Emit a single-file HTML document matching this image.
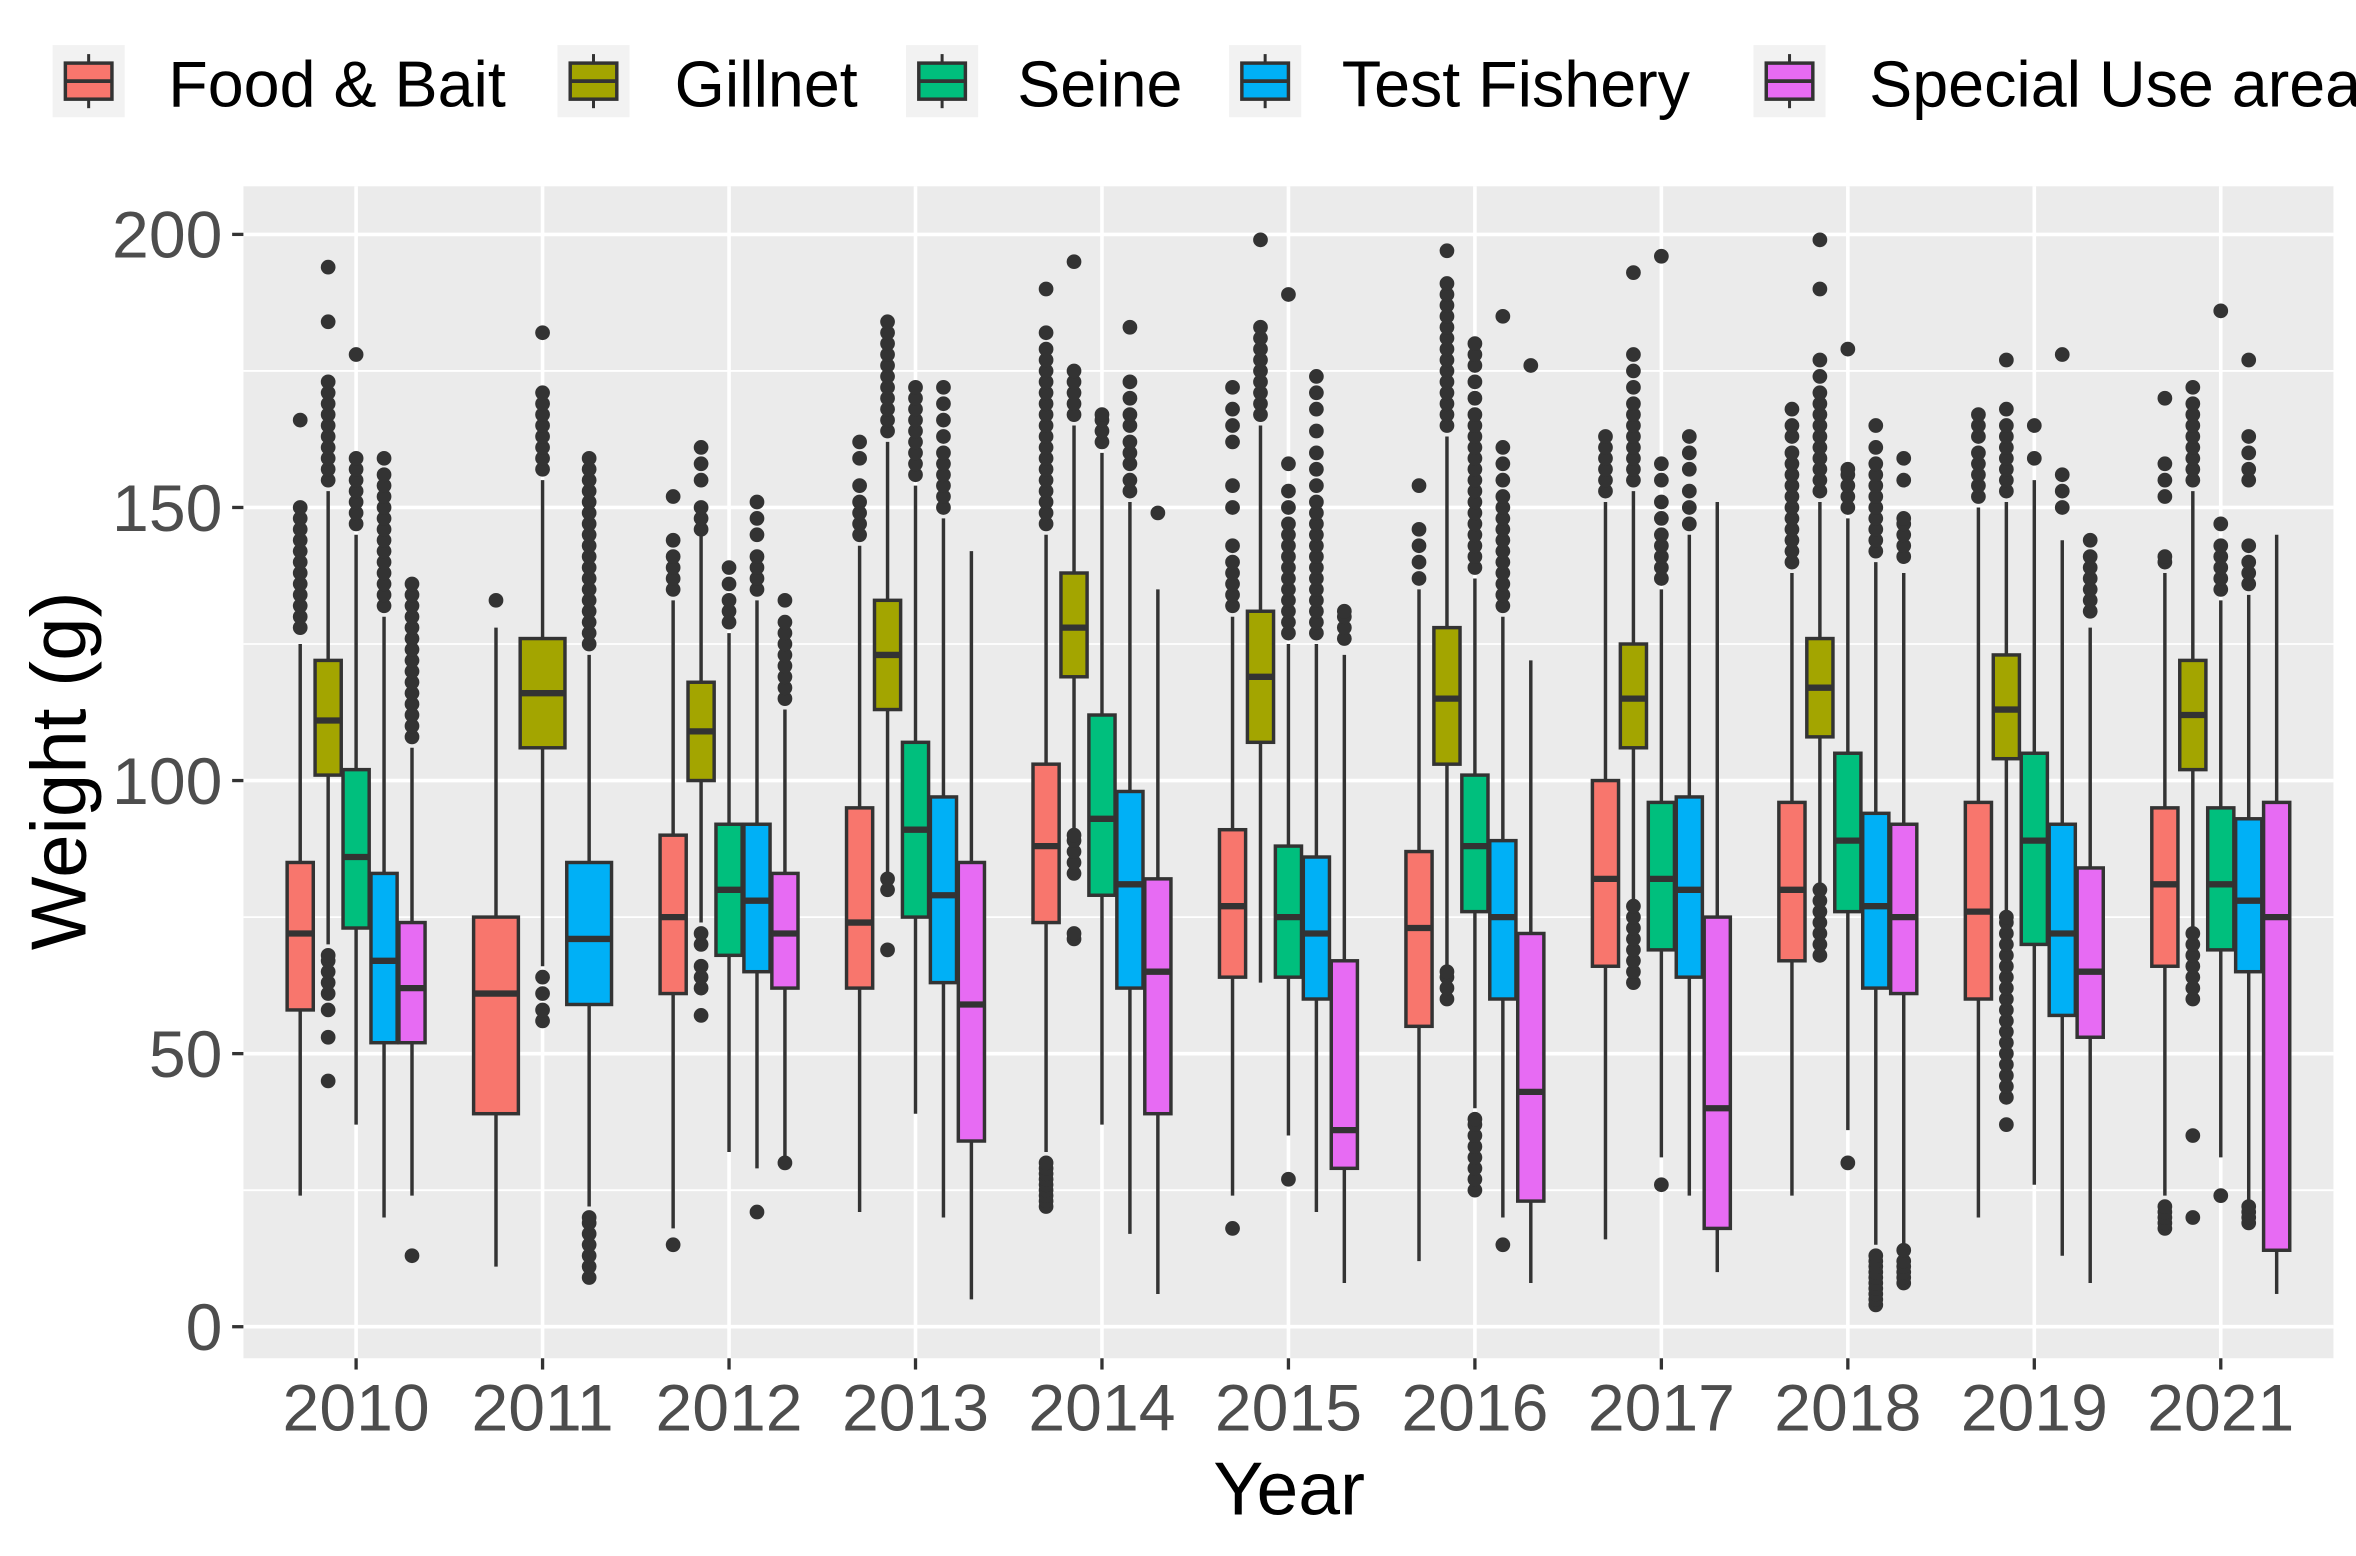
<!DOCTYPE html>
<html><head><meta charset="utf-8"><style>
html,body{margin:0;padding:0;background:#fff;}
svg{display:block;font-family:"Liberation Sans",Arial,sans-serif;}
</style></head><body>
<svg id="chart" width="2356" height="1556" viewBox="0 0 1568 1035.6" preserveAspectRatio="none" xmlns="http://www.w3.org/2000/svg">
<rect x="0" y="0" width="1568" height="1036" fill="#fff"/>
<g id="legend"></g>
<rect x="162" y="124" width="1391" height="780" fill="#EBEBEB"/>
<g id="grid"></g>
<g id="marks"></g>
<g id="axes"></g>
<text x="858" y="1008" font-size="50" text-anchor="middle" fill="#000">Year</text>
<text transform="translate(57,513) rotate(-90)" font-size="52" text-anchor="middle" fill="#000">Weight (g)</text>
</svg>
<script>
const years = ["2010","2011","2012","2013","2014","2015","2016","2017","2018","2019","2021"];
const groups = ["Food & Bait","Gillnet","Seine","Test Fishery","Special Use area"];
const colors = ["#F8766D","#A3A500","#00BF7D","#00B0F6","#E76BF3"];
const yTicks = [0,50,100,150,200];
// [lo, q1, median, q3, hi] per year, per group (null = absent)
const stats = [
 [[24,58,72,85,125],[70,101,111,122,153],[37,73,86,102,145],[20,52,67,83,130],[24,52,62,74,106]],
 [[11,39,61,75,128],[66,106,116,126,155],null,[22,59,71,85,123],null],
 [[18,61,75,90,133],[74,100,109,118,145],[32,68,80,92,127],[29,65,78,92,133],[31,62,72,83,113]],
 [[21,62,74,95,143],[83,113,123,133,162],[39,75,91,107,154],[20,63,79,97,148],[5,34,59,85,142]],
 [[32,74,88,103,145],[91,119,128,138,165],[37,79,93,112,160],[17,62,81,98,151],[6,39,65,82,135]],
 [[24,64,77,91,130],[63,107,119,131,165],[35,64,75,88,125],[21,60,72,86,125],[8,29,36,67,123]],
 [[12,55,73,87,135],[66,103,115,128,163],[40,76,88,101,137],[20,60,75,89,130],[8,23,43,72,122]],
 [[16,66,82,100,151],[78,106,115,125,153],[31,69,82,96,135],[24,64,80,97,145],[10,18,40,75,151]],
 [[24,67,80,96,138],[80,108,117,126,151],[36,76,89,105,148],[15,62,77,94,140],[15,61,75,92,138]],
 [[20,60,76,96,150],[76,104,113,123,151],[26,70,89,105,155],[13,57,72,92,144],[8,53,65,84,128]],
 [[24,66,81,95,138],[73,102,112,122,153],[31,69,81,95,133],[23,65,78,93,134],[6,14,75,96,145]]
];
const outliers = [
 [[128,130,132,134,136,138,140,142,144,146,148,150,166],
  [45,53,58,61,63,65,67,68,155,157,159,161,163,165,167,169,171,173,184,194],
  [147,149,151,153,155,157,159,178],
  [132,134,136,138,140,142,144,146,148,150,152,154,156,159],
  [13,108,110,112,114,116,118,120,122,124,126,128,130,132,134,136]],
 [[133],
  [56,58,61,64,157,159,161,163,165,167,169,171,182],
  [],
  [9,11,13,15,17,19,20,125,127,129,131,133,135,137,139,141,143,145,147,149,151,153,155,157,159],
  []],
 [[15,135,137,139,141,144,152],
  [57,62,64,66,70,72,146,148,150,155,158,161],
  [129,131,133,136,139],
  [21,135,137,139,141,145,148,151],
  [30,115,117,119,121,123,125,127,129,133]],
 [[145,147,149,151,154,159,162],
  [69,80,82,164,166,168,170,172,174,176,178,180,182,184],
  [156,158,160,162,164,166,168,170,172],
  [150,152,154,156,158,160,163,166,169,172],
  []],
 [[22,23,24,25,26,27,28,29,30,147,149,151,153,155,157,159,161,163,165,167,169,171,173,175,177,179,182,190],
  [71,72,83,85,87,89,90,167,169,171,173,175,195],
  [162,164,166,167],
  [153,155,158,160,162,165,167,170,173,183],
  [149]],
 [[18,132,134,136,138,140,143,150,154,162,165,168,172],
  [167,169,171,173,175,177,179,181,183,199],
  [27,127,129,131,133,135,137,139,141,143,145,147,150,153,158,189],
  [127,129,131,133,135,137,139,141,143,145,147,149,151,154,157,160,164,168,171,174],
  [126,128,130,131]],
 [[137,140,143,146,154],
  [60,62,64,65,165,167,169,171,173,175,177,179,181,183,185,187,189,191,197],
  [25,27,29,31,33,35,37,38,139,141,143,145,147,149,151,153,155,157,159,161,163,165,167,170,173,176,178,180],
  [15,132,134,136,138,140,142,144,146,148,150,152,155,158,161,185],
  [176]],
 [[153,155,157,159,161,163],
  [63,65,67,69,71,73,75,77,155,157,159,161,163,165,167,169,172,175,178,193],
  [26,137,139,141,143,145,148,151,155,158,196],
  [147,150,153,157,160,163],
  []],
 [[140,142,144,146,148,150,152,154,156,158,160,163,165,168],
  [68,70,72,74,76,78,80,153,155,157,159,161,163,165,167,169,171,174,177,190,199],
  [30,150,152,154,156,157,179],
  [4,5,6,7,8,9,10,11,12,13,142,144,146,148,150,152,154,156,158,161,165],
  [8,9,10,11,12,14,141,143,145,147,148,155,159]],
 [[152,154,156,158,160,163,165,167],
  [37,42,44,46,48,50,52,54,56,58,60,62,64,66,68,70,72,74,75,153,155,157,159,161,163,165,168,177],
  [159,165],
  [150,153,156,178],
  [131,133,135,137,139,141,144]],
 [[18,19,20,21,22,140,141,152,155,158,170],
  [20,35,60,62,64,66,68,70,72,155,157,159,161,163,165,167,169,172],
  [24,135,137,139,141,143,147,186],
  [19,20,21,22,136,138,140,143,155,157,160,163,177],
  []]
];

const NS = "http://www.w3.org/2000/svg";
const P = {left:162, right:1553, top:124, bottom:904};
const yScale = v => 883 - v * 3.635;
const xBand = i => 237 + i * 124.1;
const DODGE = 93;
function mk(tag, attrs, parent){
  const el = document.createElementNS(NS, tag);
  for (const k in attrs) el.setAttribute(k, attrs[k]);
  parent.appendChild(el);
  return el;
}
const grid = document.getElementById('grid');
const axes = document.getElementById('axes');
const marks = document.getElementById('marks');
const legend = document.getElementById('legend');

// minor gridlines
for (let k = 0; k < yTicks.length - 1; k++) {
  const v = (yTicks[k] + yTicks[k+1]) / 2;
  const l = mk('line', {x1:P.left, x2:P.right, y1:yScale(v), y2:yScale(v), stroke:'#fff', 'stroke-width':1.2}, grid);
  
  
}
yTicks.forEach(v => {
  const y = yScale(v);
  const l = mk('line', {x1:P.left, x2:P.right, y1:y, y2:y, stroke:'#fff', 'stroke-width':2.4}, grid);
  
  
  const t = mk('line', {x1:P.left-7.5, x2:P.left, y1:y, y2:y, stroke:'#333', 'stroke-width':2.2}, axes);
  
  
  const tx = mk('text', {x:P.left-14, y:y+15.5, 'font-size':44, 'text-anchor':'end', fill:'#4D4D4D'}, axes);
  tx.textContent = v;
  
  
});
years.forEach((yr, i) => {
  const x = xBand(i);
  const l = mk('line', {x1:x, x2:x, y1:P.top, y2:P.bottom, stroke:'#fff', 'stroke-width':2.4}, grid);
  
  
  const t = mk('line', {x1:x, x2:x, y1:P.bottom, y2:P.bottom+7.5, stroke:'#333', 'stroke-width':2.2}, axes);
  
  
  const tx = mk('text', {x:x, y:952, 'font-size':44, 'text-anchor':'middle', fill:'#4D4D4D'}, axes);
  tx.textContent = yr;
  
  
});

// boxes
stats.forEach((row, i) => {
  const present = row.map((s, g) => s ? g : -1).filter(g => g >= 0);
  const n = present.length;
  const slot = DODGE / n;
  present.forEach((g, k) => {
    const s = row[g];
    const cx = xBand(i) - DODGE/2 + slot*(k+0.5);
    const grp = mk('g', {}, marks);
    
    
    const w1 = mk('line', {x1:cx, x2:cx, y1:yScale(s[0]), y2:yScale(s[1]), stroke:'#333', 'stroke-width':2.3}, grp);
    
    
    const w2 = mk('line', {x1:cx, x2:cx, y1:yScale(s[3]), y2:yScale(s[4]), stroke:'#333', 'stroke-width':2.3}, grp);
    
    
    const r = mk('rect', {x:cx-slot/2+0.6, y:yScale(s[3]), width:slot-1.2, height:yScale(s[1])-yScale(s[3]), fill:colors[g], stroke:'#333', 'stroke-width':2.3}, grp);
    
    
    const m = mk('line', {x1:cx-slot/2+0.6, x2:cx+slot/2-0.6, y1:yScale(s[2]), y2:yScale(s[2]), stroke:'#333', 'stroke-width':4.2}, grp);
    
    
    (outliers[i][g] || []).forEach(v => {
      const c = mk('circle', {cx:cx, cy:yScale(v), r:4.9, fill:'#333'}, grp);
      
      
    });
  });
});

// legend
const keyX = [35, 371, 603, 818, 1167];
const textX = [112, 449, 677, 893, 1244];
groups.forEach((name, g) => {
  const lg = mk('g', {}, legend);
  
  
  const bg = mk('rect', {x:keyX[g], y:30, width:48, height:48, fill:'#F2F2F2'}, lg);
  
  
  const cx = keyX[g] + 24;
  const wl = mk('line', {x1:cx, x2:cx, y1:36, y2:72, stroke:'#333', 'stroke-width':2}, lg);
  
  
  const kb = mk('rect', {x:keyX[g]+8.5, y:42, width:31, height:24, fill:colors[g], stroke:'#333', 'stroke-width':2.3}, lg);
  
  
  const km = mk('line', {x1:keyX[g]+8.5, x2:keyX[g]+39.5, y1:54, y2:54, stroke:'#333', 'stroke-width':2.5}, lg);
  
  
  const t = mk('text', {x:textX[g], y:71, 'font-size':43, fill:'#000'}, lg);
  t.textContent = name;
  
  
});
</script>
</body></html>
